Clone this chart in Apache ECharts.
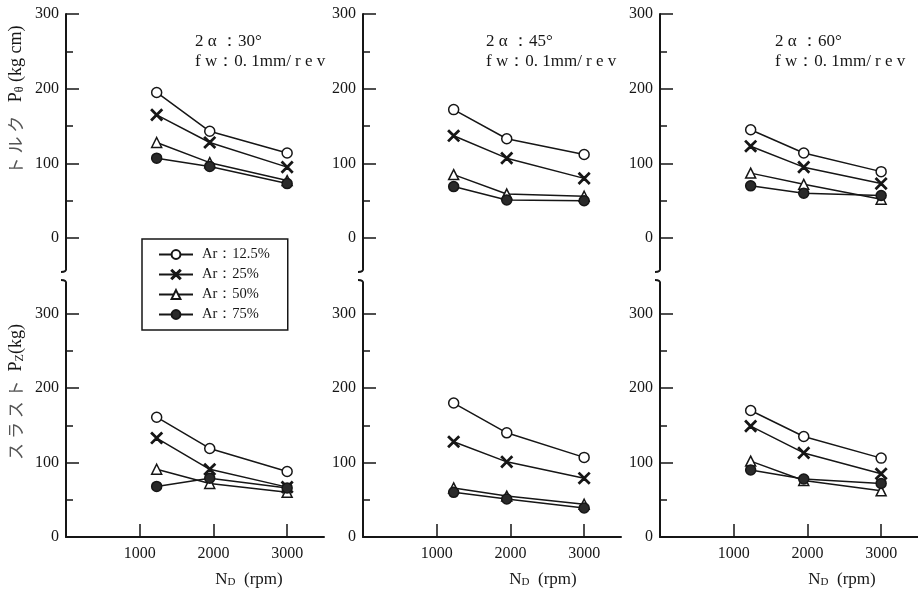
<!DOCTYPE html>
<html>
<head>
<meta charset="utf-8">
<script src="https://cdn.jsdelivr.net/npm/echarts@6/dist/echarts.min.js"></script>
<style>
  html, body { margin: 0; background: #fff; }
  #main { width: 918px; height: 593px; }
</style>
</head>
<body>
<div id="main"></div>
<script>
// 回転数 (rpm)
const rpm = [1230, 1950, 3000];
const arNames = ['Ar：12.5%', 'Ar：25%', 'Ar：50%', 'Ar：75%'];
const angleTexts = ['2 α ：30°', '2 α ：45°', '2 α ：60°'];
const feedText = 'f w：0. 1mm/ r e v';

// トルク Pθ (kg cm)  rows = Ar 12.5 / 25 / 50 / 75 %
const torque30 = [[195, 143, 114], [165, 128, 95], [128, 101, 77], [107, 96, 73]];
const torque45 = [[172, 133, 112], [137, 107, 80], [85, 59, 56], [69, 51, 50]];
const torque60 = [[145, 114, 89], [123, 95, 73], [87, 72, 52], [70, 60, 57]];
// スラスト Pz (kg)
const thrust30 = [[161, 119, 88], [133, 91, 67], [91, 72, 60], [68, 79, 66]];
const thrust45 = [[180, 140, 107], [128, 101, 79], [66, 55, 44], [60, 51, 39]];
const thrust60 = [[170, 135, 106], [149, 113, 85], [102, 76, 62], [90, 78, 72]];

const yMajor = [0, 100, 200, 300];
const yMinor = [50, 150, 250];
const xTicks = [1000, 2000, 3000];

const panels = [torque30, torque45, torque60, thrust30, thrust45, thrust60];

const serif = '"Liberation Serif", "DejaVu Serif", serif';
const ink = '#161616';
const colLeft = [66, 363, 660];
const colWidth = 258;

const crossPath = 'path://M0.8,0 L5,4.2 L9.2,0 L10,0.8 L5.8,5 L10,9.2 L9.2,10 L5,5.8 L0.8,10 L0,9.2 L4.2,5 L0,0.8 Z';
const markers = [
  { symbol: 'circle', symbolSize: 10, fill: '#fff' },
  { symbol: crossPath, symbolSize: 11, fill: ink },
  { symbol: 'triangle', symbolSize: 10, fill: '#fff' },
  { symbol: 'circle', symbolSize: 10, fill: '#2a2a2a' }
];

const grid = [], xAxis = [], yAxis = [], series = [];
for (let p = 0; p < 6; p++) {
  const col = p % 3;
  const isTop = p < 3;
  grid.push(isTop
    ? { left: colLeft[col], width: colWidth, top: 14, height: 254 }
    : { left: colLeft[col], width: colWidth, top: 284, height: 253 });

  xAxis.push({
    gridIndex: p, type: 'value', min: 0, max: 3500,
    show: !isTop,
    splitLine: { show: false },
    axisLine: { lineStyle: { color: ink, width: 2 } },
    axisTick: { inside: true, length: 13, customValues: xTicks, lineStyle: { color: ink, width: 1.5 } },
    axisLabel: {
      customValues: xTicks, margin: 9, fontSize: 16, fontFamily: serif, color: ink,
      formatter: v => String(v)
    }
  });

  const yMin = isTop ? -40 : 0;
  const yMax = isTop ? 300 : 340;
  // 主目盛 (ラベル付き)
  yAxis.push({
    gridIndex: p, type: 'value', min: yMin, max: yMax, position: 'left',
    splitLine: { show: false },
    axisLine: { show: true, lineStyle: { color: ink, width: 2 } },
    axisTick: { inside: true, length: 13, customValues: yMajor, lineStyle: { color: ink, width: 1.5 } },
    axisLabel: { customValues: yMajor, margin: 7, fontSize: 16, fontFamily: serif, color: ink }
  });
  // 副目盛
  yAxis.push({
    gridIndex: p, type: 'value', min: yMin, max: yMax, position: 'left',
    splitLine: { show: false },
    axisLine: { show: false },
    axisTick: { show: true, inside: true, length: 7, customValues: yMinor, lineStyle: { color: ink, width: 1.5 } },
    axisLabel: { show: false }
  });

  panels[p].forEach((vals, i) => {
    series.push({
      name: arNames[i],
      type: 'line',
      xAxisIndex: p,
      yAxisIndex: p * 2,
      data: rpm.map((x, j) => [x, vals[j]]),
      symbol: markers[i].symbol,
      symbolSize: markers[i].symbolSize,
      showAllSymbol: true,
      lineStyle: { color: ink, width: 1.5 },
      itemStyle: { color: markers[i].fill, borderColor: ink, borderWidth: 1.5 },
      z: 3 + i
    });
  });
}

const subRich = {
  sub: { fontSize: 12, fontFamily: serif, fill: ink, padding: [7, 0, 0, 0] },
  jp: { fontSize: 17, fontFamily: '"Noto Sans CJK JP"', fill: '#555' }
};

const graphic = [];
angleTexts.forEach((t, c) => {
  graphic.push({
    type: 'text', left: [195, 486, 775][c], top: 32,
    style: { text: t + '\n' + feedText, font: '17px ' + serif, fill: ink, lineHeight: 20 }
  });
  graphic.push({
    type: 'text', x: [249, 543, 842][c], y: 580,
    style: {
      text: 'N{sub|D}  (rpm)', font: '17px ' + serif, fill: ink,
      align: 'center', verticalAlign: 'middle', rich: { sub: { fontSize: 11, fontFamily: serif, fill: ink, padding: [5, 0, 0, 0] } }
    }
  });
});
graphic.push({
  type: 'text', x: 16, y: 100, rotation: Math.PI / 2,
  style: {
    text: '{jp|ト ル ク}   P{sub|θ} (kg cm)', font: '18px ' + serif, fill: ink,
    align: 'center', verticalAlign: 'middle', rich: subRich
  }
});
graphic.push({
  type: 'text', x: 16, y: 392, rotation: Math.PI / 2,
  style: {
    text: '{jp|ス ラ ス ト}  P{sub|Z}(kg)', font: '18px ' + serif, fill: ink,
    align: 'center', verticalAlign: 'middle', rich: subRich
  }
});

// 軸の破断記号
[0, 1, 2].forEach(c => {
  const x = colLeft[c];
  graphic.push({
    type: 'bezierCurve', silent: true,
    shape: { x1: x, y1: 268, x2: x - 5, y2: 272, cpx1: x + 1, cpy1: 272 },
    style: { stroke: ink, lineWidth: 2, fill: null }
  });
  graphic.push({
    type: 'bezierCurve', silent: true,
    shape: { x1: x, y1: 284, x2: x - 5, y2: 280, cpx1: x + 1, cpy1: 280 },
    style: { stroke: ink, lineWidth: 2, fill: null }
  });
});

const chart = echarts.init(document.getElementById('main'));
chart.setOption({
  backgroundColor: '#fff',
  animation: false,
  grid: grid,
  xAxis: xAxis,
  yAxis: yAxis,
  legend: {
    data: arNames,
    orient: 'vertical',
    left: 142, top: 239,
    backgroundColor: '#fff',
    borderColor: ink, borderWidth: 1.5, borderRadius: 0,
    padding: [8, 18, 8, 16],
    itemGap: 5, itemWidth: 34, itemHeight: 11,
    textStyle: { fontFamily: serif, fontSize: 14.5, color: ink, padding: [0, 0, 0, 4] }
  },
  graphic: graphic,
  series: series
});
</script>
</body>
</html>
